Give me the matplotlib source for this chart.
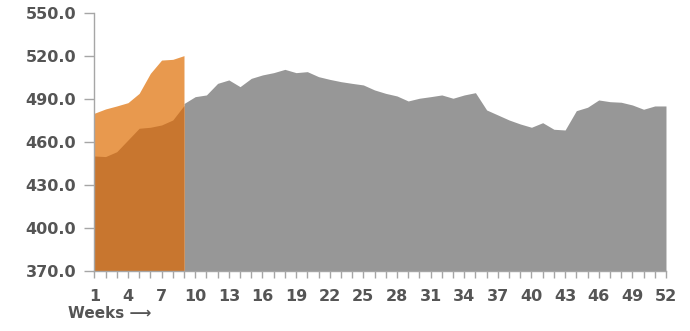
import matplotlib
matplotlib.use("Agg")
import matplotlib.pyplot as plt

# Weekly index values
weeks_current = list(range(1, 10))
current_low = [450.2, 449.8, 453.2, 461.4, 469.6, 470.3, 471.9, 475.4, 485.5]
current_high = [480.1, 483.1, 485.2, 487.5, 494.0, 508.0, 517.3, 517.8, 520.4]

weeks_rest = list(range(9, 53))
rest_values = [486.9, 491.7, 492.9, 501.0, 503.4, 498.7, 504.5, 506.9, 508.5, 510.8,
               508.5, 509.2, 505.7, 503.8, 502.2, 501.0, 499.9, 496.4, 494.0, 492.2,
               488.7, 490.6, 491.7, 492.9, 490.6, 492.9, 494.5, 482.4, 478.9, 475.4,
               472.6, 470.3, 473.5, 468.9, 468.4, 481.9, 484.3, 489.4, 488.2, 487.8,
               485.9, 482.9, 485.2, 485.2]

y_ticks = [370, 400, 430, 460, 490, 520, 550]
x_ticks = list(range(1, 53, 3))

DARK_ORANGE = "#C8762F"
LIGHT_ORANGE = "#E8994E"
GRAY = "#979797"
AXIS = "#A6A6A6"
TEXT = "#555555"

plt.rcParams["font.family"] = ["DejaVu Sans"]
plt.rcParams["font.weight"] = "bold"

fig = plt.figure(figsize=(6.9, 3.31), dpi=100)
ax = fig.add_axes([0.1367, 0.1822, 0.8285, 0.7776])

base = y_ticks[0]
ax.fill_between(weeks_rest, base, rest_values, color=GRAY, lw=0)
ax.fill_between(weeks_current, base, current_high, color=LIGHT_ORANGE, lw=0)
ax.fill_between(weeks_current, base, current_low, color=DARK_ORANGE, lw=0)

ax.set_xlim(1, 52)
ax.set_ylim(370, 550)
ax.set_yticks(y_ticks)
ax.set_yticklabels([f"{v:.1f}" for v in y_ticks])
ax.set_xticks(x_ticks)
ax.set_xticks(range(1, 53), minor=True)

for s in ("top", "right"):
    ax.spines[s].set_visible(False)
for s in ("left", "bottom"):
    ax.spines[s].set_color(AXIS)
    ax.spines[s].set_linewidth(1.0)

ax.tick_params(axis="y", length=7, width=1.0, color=AXIS, labelsize=11.5,
               labelcolor=TEXT, pad=6)
ax.tick_params(axis="x", which="major", length=5, width=1.0, color=AXIS,
               labelsize=11.5, labelcolor=TEXT, pad=8)
ax.tick_params(axis="x", which="minor", length=5, width=1.0, color=AXIS)

fig.text(0.098, 0.03, "Weeks \u27f6", fontsize=11, color=TEXT,
         ha="left", va="bottom")

fig.savefig("out.png", dpi=100)
